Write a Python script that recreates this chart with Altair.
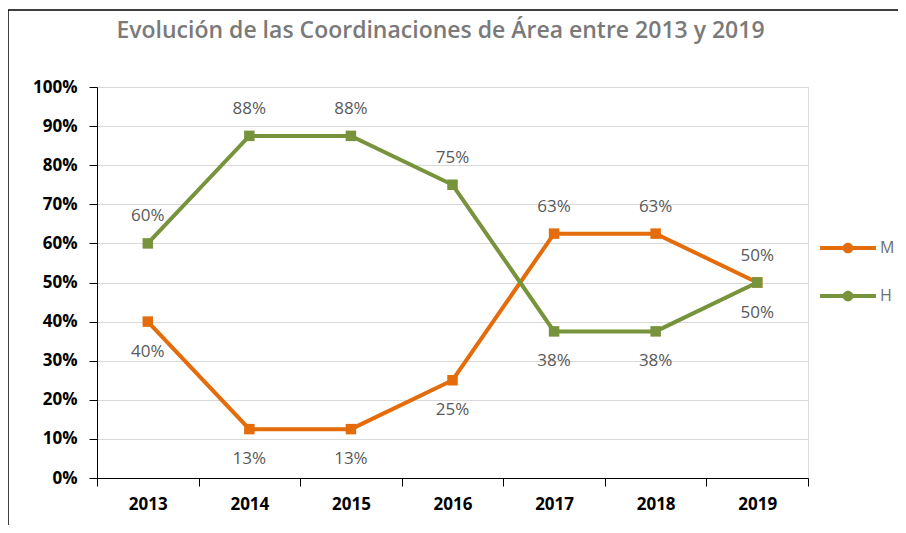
import altair as alt
import pandas as pd

title_text = "Evolución de las Coordinaciones de Área entre 2013 y 2019"
years = ["2013", "2014", "2015", "2016", "2017", "2018", "2019"]
m_vals = [0.40, 0.125, 0.125, 0.25, 0.625, 0.625, 0.50]
h_vals = [0.60, 0.875, 0.875, 0.75, 0.375, 0.375, 0.50]
series = ["M", "H"]
colors = ["#E46C0A", "#77933C"]
y_ticks = [0, 0.1, 0.2, 0.3, 0.4, 0.5, 0.6, 0.7, 0.8, 0.9, 1.0]

rows = []
for i, yr in enumerate(years):
    m, h = m_vals[i], h_vals[i]
    rows.append({"year": yr, "serie": "M", "value": m, "pos": "above" if m >= h else "below"})
    rows.append({"year": yr, "serie": "H", "value": h, "pos": "above" if h > m else "below"})
df = pd.DataFrame(rows)

W, H = 711, 391
FONT = "Open Sans"

legend_path = ("M-1,-0.07 L1,-0.07 L1,0.07 L-1,0.07 Z "
               "M-0.19,0 A0.19,0.19 0 1,1 0.19,0 A0.19,0.19 0 1,1 -0.19,0 Z")

x_enc = alt.X("year:O", bandPosition=0.5,
              scale=alt.Scale(type="band", paddingInner=0, paddingOuter=0),
              axis=alt.Axis(title=None, labelAngle=0, tickBand="extent", grid=False,
                            domainColor="#000000", tickColor="#000000", tickSize=8,
                            labelPadding=10, labelFont=FONT, labelFontSize=17,
                            labelFontWeight="bold", labelColor="#000000"))
y_enc = alt.Y("value:Q", scale=alt.Scale(domain=[0, 1]),
              axis=alt.Axis(title=None, format="%", values=y_ticks, grid=True,
                            gridColor="#d9d9d9", gridWidth=1,
                            domainColor="#000000", tickColor="#000000", tickSize=8,
                            labelPadding=12, labelFont=FONT, labelFontSize=17,
                            labelFontWeight="bold", labelColor="#000000"))
color_scale = alt.Scale(domain=series, range=colors)
legend = alt.Legend(title=None, orient="none", legendX=723, legendY=133,
                    symbolType=legend_path, symbolSize=3136,
                    symbolStrokeWidth=0, rowPadding=12,
                    labelFont=FONT, labelFontSize=16,
                    labelColor="#707070", labelOffset=4, padding=0)
color_enc = alt.Color("serie:N", scale=color_scale, sort=series, legend=legend)

base = alt.Chart(df)

lines = base.mark_line(strokeWidth=4).encode(x=x_enc, y=y_enc, color=color_enc)
points = base.mark_point(shape="square", filled=True, size=110, opacity=1).encode(
    x=x_enc, y=y_enc, color=color_enc)
labels_above = base.transform_filter(alt.datum.pos == "above").mark_text(
    dy=-27, font=FONT, fontSize=17, color="#595959", baseline="middle"
).encode(x=x_enc, y=y_enc, text=alt.Text("value:Q", format=".0%"))
labels_below = base.transform_filter(alt.datum.pos == "below").mark_text(
    dy=30, font=FONT, fontSize=17, color="#595959", baseline="middle"
).encode(x=x_enc, y=y_enc, text=alt.Text("value:Q", format=".0%"))

one = pd.DataFrame({"k": [0]})
frame = alt.Chart(one).mark_rect(
    fill=None, stroke="#000000", strokeWidth=1.5
).encode(x=alt.value(-89), x2=alt.value(W + 200), y=alt.value(-77), y2=alt.value(H + 120))
title = alt.Chart(one).mark_text(
    text=title_text, font=FONT, fontSize=23, fontWeight=600, color="#7a7a7a",
    align="center", baseline="middle"
).encode(x=alt.value(W / 2 - 12), y=alt.value(-56))

chart = alt.layer(frame, title, lines, points, labels_above, labels_below).properties(
    width=W, height=H,
    autosize=alt.AutoSizeParams(type="none"),
    padding={"left": 89, "top": 79, "right": 90, "bottom": 47},
).configure_view(strokeWidth=0).configure(background="#ffffff")

chart.save("out.html", embed_options={"renderer": "svg", "actions": False})
